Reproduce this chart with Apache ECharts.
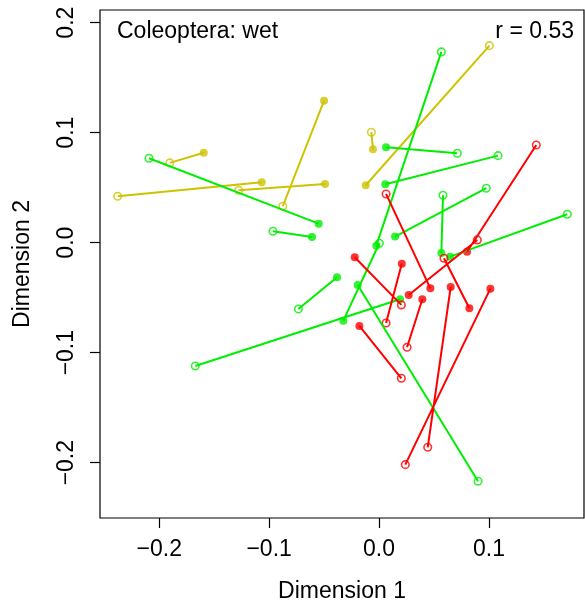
<!DOCTYPE html>
<html>
<head>
<meta charset="utf-8">
<script src="https://cdn.jsdelivr.net/npm/echarts@6/dist/echarts.min.js"></script>
<style>
html,body{margin:0;padding:0;background:#fff;}
#chart{width:585px;height:609px;}
</style>
</head>
<body>
<div id="chart"></div>
<script>
// ---- data (Dimension 1, Dimension 2) ----
const xTicks = [-0.2, -0.1, 0.0, 0.1];
const yTicks = [-0.2, -0.1, 0.0, 0.1, 0.2];

const yellowFilledX = [-0.1595, -0.0500, -0.1067, -0.0491, -0.0055, -0.0121];
const yellowFilledY = [0.0818, 0.1291, 0.0549, 0.0534, 0.0849, 0.0522];
const yellowOpenX   = [-0.1904, -0.0876, -0.2378, -0.1277, -0.0070, 0.1004];
const yellowOpenY   = [0.0725, 0.0331, 0.0422, 0.0476, 0.1004, 0.1791];

const greenFilledX = [-0.0549, -0.0610, -0.0025, 0.0064, 0.0057, 0.0567, 0.0146, 0.0646, -0.0382, 0.0191, -0.0325, -0.0194];
const greenFilledY = [0.0173, 0.0052, -0.0027, 0.0867, 0.0531, -0.0094, 0.0055, -0.0127, -0.0315, -0.0515, -0.0709, -0.0385];
const greenOpenX   = [-0.2093, -0.0965, 0.0567, 0.0712, 0.1083, 0.0582, 0.0976, 0.1713, -0.0734, -0.1672, 0.0003, 0.0901];
const greenOpenY   = [0.0767, 0.0104, 0.1734, 0.0813, 0.0791, 0.0431, 0.0495, 0.0258, -0.0603, -0.1121, -0.0005, -0.2169];

const redFilledX = [0.0467, 0.0801, 0.0270, 0.0822, -0.0221, 0.0207, 0.0394, 0.0652, 0.1013, -0.0179];
const redFilledY = [-0.0415, -0.0082, -0.0475, -0.0596, -0.0133, -0.0191, -0.0515, -0.0403, -0.0418, -0.0757];
const redOpenX   = [0.0064, 0.1431, 0.0894, 0.0591, 0.0203, 0.0064, 0.0255, 0.0443, 0.0239, 0.0203];
const redOpenY   = [0.0443, 0.0888, 0.0025, -0.0142, -0.0566, -0.0730, -0.0951, -0.1860, -0.2018, -0.1233];

const titleText = 'Coleoptera: wet';
const rText = 'r = 0.53';

// ---- build ----
const FONT = 'Liberation Sans, Arial, Helvetica, sans-serif';
function pts(xs, ys) { return xs.map((x, i) => [x, ys[i]]); }
function segs(fx, fy, ox, oy) {
  const out = [];
  fx.forEach((x, i) => { out.push([x, fy[i]], [ox[i], oy[i]], '-'); });
  return out;
}
const groups = [
  {name: 'yellow', color: '#CDC300', fx: yellowFilledX, fy: yellowFilledY, ox: yellowOpenX, oy: yellowOpenY},
  {name: 'green',  color: '#00EE00', fx: greenFilledX,  fy: greenFilledY,  ox: greenOpenX,  oy: greenOpenY},
  {name: 'red',    color: '#FF0000', fx: redFilledX,    fy: redFilledY,    ox: redOpenX,    oy: redOpenY}
];
const series = [];
groups.forEach(g => {
  series.push({
    type: 'line', data: segs(g.fx, g.fy, g.ox, g.oy), connectNulls: false,
    showSymbol: false, symbol: 'none', silent: true, animation: false,
    lineStyle: {color: g.color, width: 2}
  });
});
groups.forEach(g => {
  series.push({
    type: 'scatter', data: pts(g.fx, g.fy), symbol: 'circle', symbolSize: 8,
    itemStyle: {color: g.color}, animation: false, silent: true
  });
  series.push({
    type: 'scatter', data: pts(g.ox, g.oy), symbol: 'circle', symbolSize: 7.5,
    itemStyle: {color: 'rgba(0,0,0,0)', borderColor: g.color, borderWidth: 1.6},
    animation: false, silent: true
  });
});

function fmt(v) {
  const s = Math.abs(v).toFixed(1);
  return (v < -1e-9 ? '\u2212' : '') + s;
}

const chart = echarts.init(document.getElementById('chart'), null, {renderer: 'canvas'});
chart.setOption({
  backgroundColor: '#fff',
  animation: false,
  grid: {left: 100, top: 10, width: 484, height: 508, show: true, borderColor: '#000', borderWidth: 1.2, backgroundColor: 'transparent'},
  xAxis: {
    type: 'value', min: -0.2539, max: 0.1865,
    axisLine: {show: false, onZero: false},
    splitLine: {show: false},
    axisTick: {show: true, length: 10, inside: false, customValues: xTicks, lineStyle: {color: '#000', width: 1.2}},
    axisLabel: {customValues: xTicks, formatter: fmt, color: '#000', fontSize: 23, fontFamily: FONT, margin: 20}
  },
  yAxis: {
    type: 'value', min: -0.2503, max: 0.2115,
    axisLine: {show: false, onZero: false},
    splitLine: {show: false},
    axisTick: {show: true, length: 10, inside: false, customValues: yTicks, lineStyle: {color: '#000', width: 1.2}},
    axisLabel: {customValues: yTicks, formatter: fmt, rotate: 90, color: '#000', fontSize: 23, fontFamily: FONT, margin: 22}
  },
  graphic: [
    {type: 'text', left: 117, top: 20, style: {text: titleText, font: '23px ' + FONT, fill: '#000'}},
    {type: 'text', right: 11, top: 20, style: {text: rText, font: '23px ' + FONT, fill: '#000', textAlign: 'right'}},
    {type: 'text', x: 342, y: 592, style: {text: 'Dimension 1', font: '23px ' + FONT, fill: '#000', textAlign: 'center', textVerticalAlign: 'middle'}},
    {type: 'text', x: 23, y: 264, rotation: Math.PI / 2, style: {text: 'Dimension 2', font: '23px ' + FONT, fill: '#000', textAlign: 'center', textVerticalAlign: 'middle'}}
  ],
  series: series
});
</script>
</body>
</html>
